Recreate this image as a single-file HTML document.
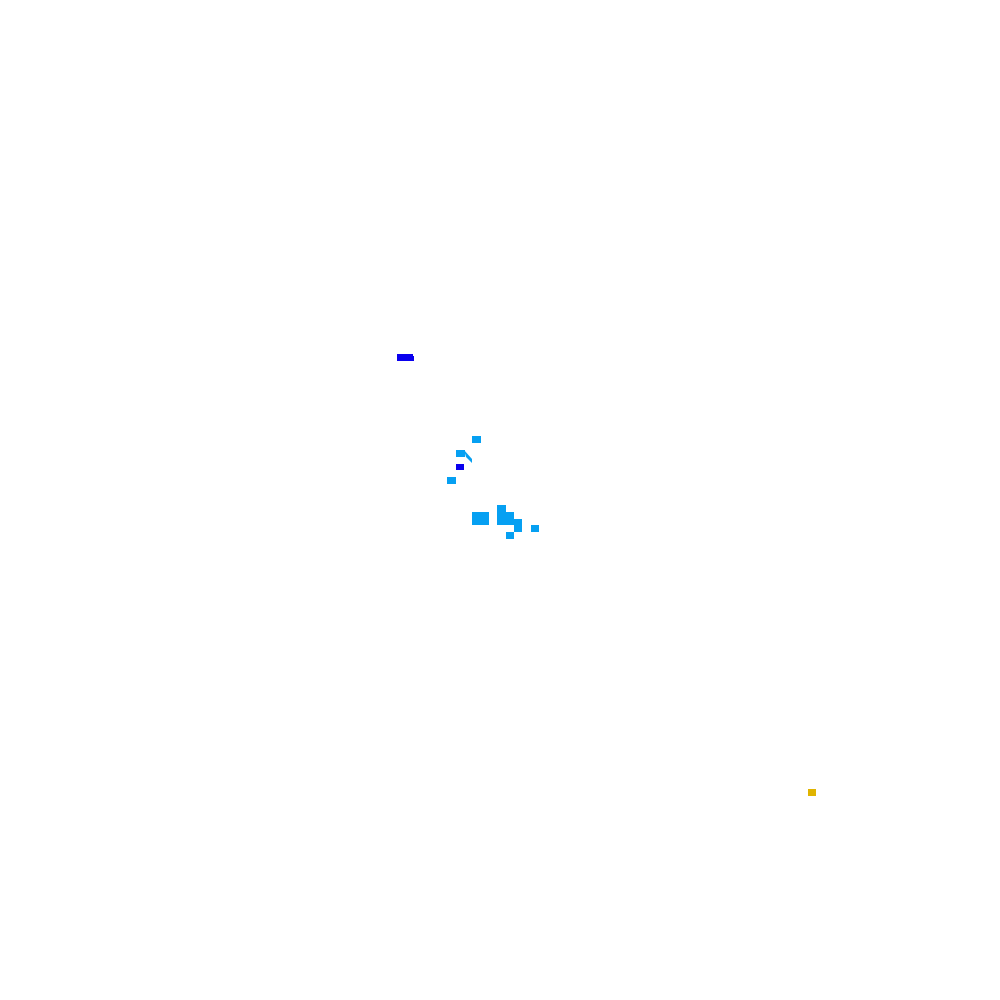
<!DOCTYPE html>
<html><head><style>
html,body{margin:0;padding:0;background:#fff;width:1000px;height:1000px;overflow:hidden}
div{position:absolute}
.l{background:#06a0f2}
.d{background:#0a00ee}
</style></head><body>
<div class="d" style="left:397px;top:354px;width:16px;height:7px"></div>
<div class="d" style="left:413px;top:356px;width:1px;height:5px"></div>
<div class="l" style="left:472px;top:436px;width:9px;height:7px"></div>
<div class="l" style="left:456px;top:450px;width:9px;height:7px"></div>
<svg style="position:absolute;left:0;top:0" width="1000" height="1000"><path d="M464 450 L472 459 L472 463 L466 457 Z" fill="#06a0f2"/></svg>
<div class="d" style="left:456px;top:464px;width:8px;height:6px"></div>
<div class="l" style="left:447px;top:477px;width:9px;height:7px"></div>
<div class="l" style="left:472px;top:512px;width:17px;height:13px"></div>
<div class="l" style="left:497px;top:505px;width:9px;height:7px"></div>
<div class="l" style="left:497px;top:512px;width:17px;height:13px"></div>
<div class="l" style="left:514px;top:519px;width:8px;height:13px"></div>
<div class="l" style="left:506px;top:532px;width:8px;height:7px"></div>
<div class="l" style="left:531px;top:525px;width:8px;height:7px"></div>
<div style="left:808px;top:789px;width:8px;height:7px;background:#e0b400"></div>
</body></html>
